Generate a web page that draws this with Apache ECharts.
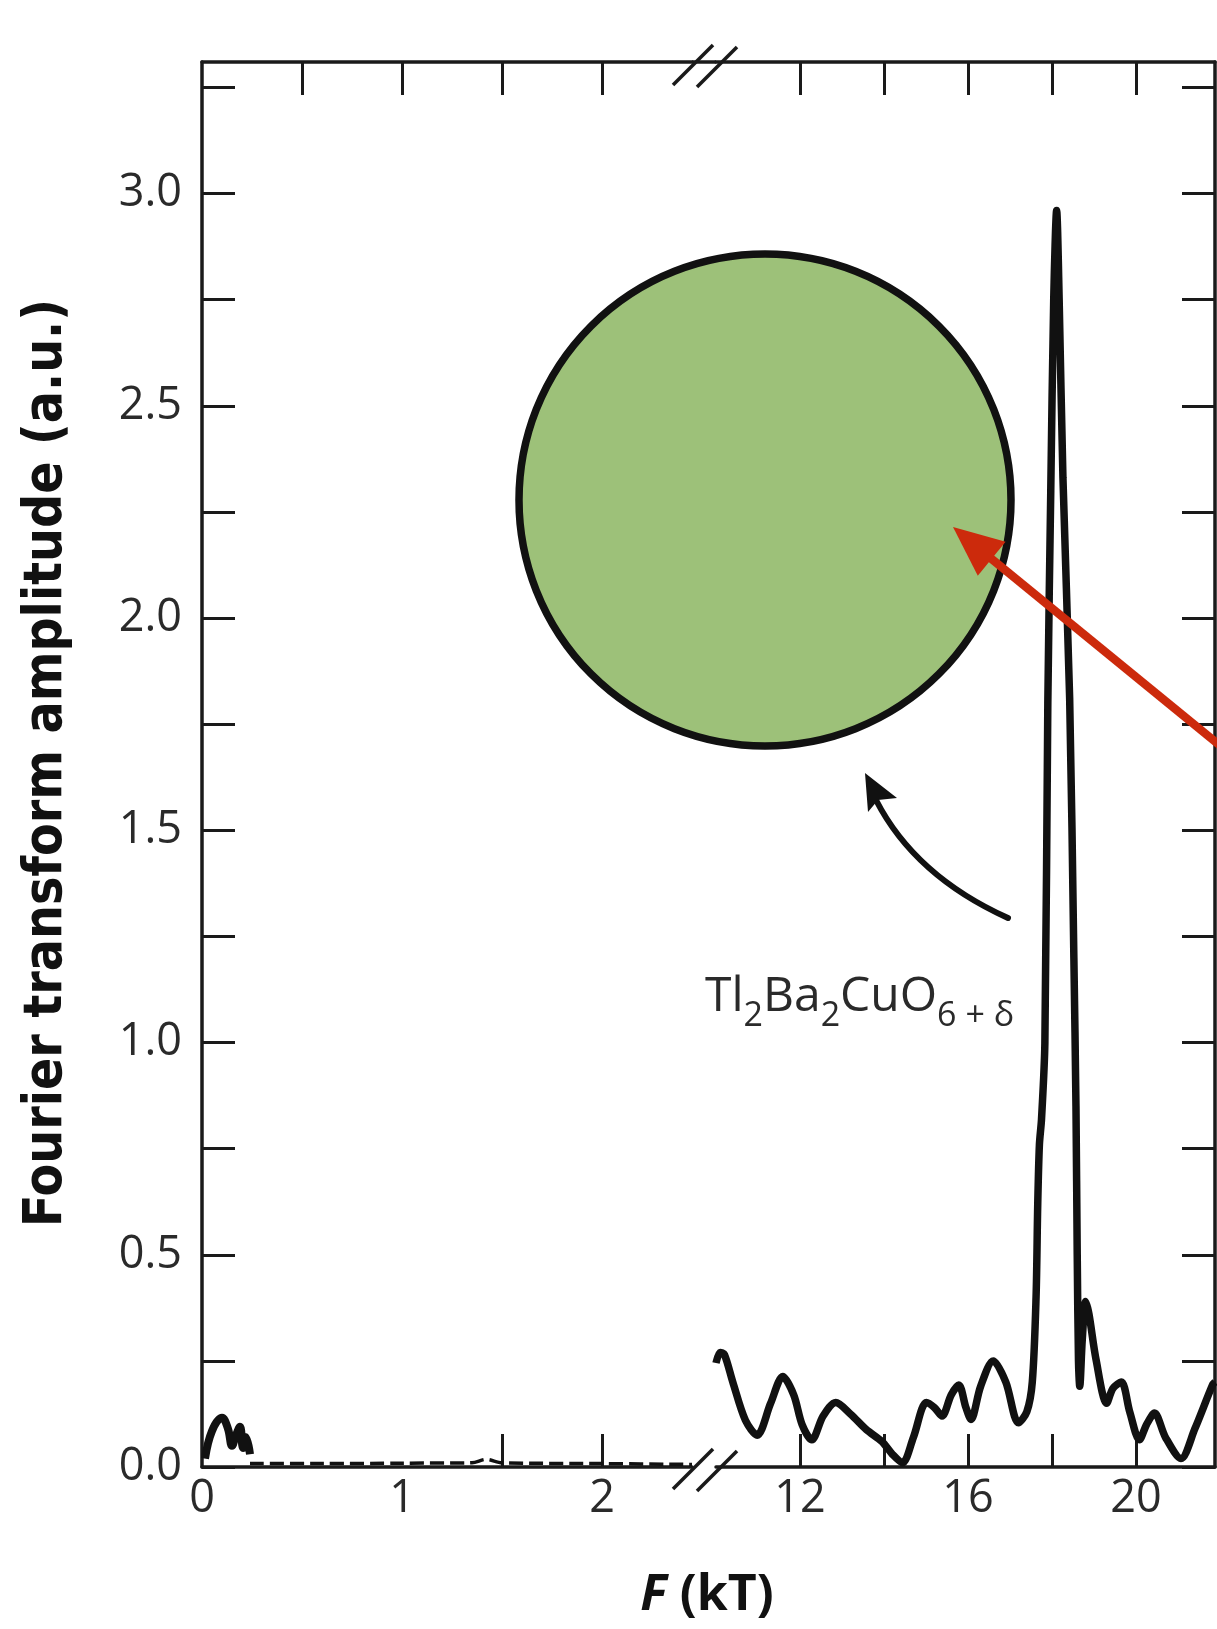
<!DOCTYPE html>
<html><head><meta charset="utf-8">
<script src="https://cdn.jsdelivr.net/npm/echarts@6/dist/echarts.min.js"></script>
<style>html,body{margin:0;padding:0;background:#fff}#c{width:1217px;height:1629px}</style>
</head><body><div id="c"></div>
<script>
// ---- data ----
// low-frequency part (kT)
const lowF   = [0.015, 0.05, 0.10, 0.13, 0.15, 0.17, 0.19, 0.205, 0.22, 0.24];
const lowAmp = [0.02, 0.085, 0.116, 0.09, 0.05, 0.075, 0.095, 0.045, 0.07, 0.03];
// flat low-frequency baseline
const baseF   = [0.24, 0.6, 1.0, 1.35, 1.42, 1.5, 2.0, 2.45];
const baseAmp = [0.008, 0.008, 0.009, 0.01, 0.018, 0.01, 0.008, 0.006];
// high-frequency part (kT)
const highF = [10.0, 10.1, 10.2, 10.4, 10.7, 10.98, 11.3, 11.59, 11.85, 12.05, 12.28, 12.55, 12.85, 13.2, 13.58, 13.95, 14.2, 14.44, 14.7, 15.01, 15.2, 15.38, 15.6, 15.78, 15.95, 16.07, 16.3, 16.6, 16.9, 17.2, 17.4, 17.53, 17.62, 17.66, 17.7, 17.75, 17.83, 17.9, 17.97, 18.04, 18.11, 18.17, 18.26, 18.42, 18.52, 18.57, 18.6, 18.63, 18.66, 18.72, 18.8, 18.88, 19.05, 19.3, 19.45, 19.65, 19.85, 20.08, 20.25, 20.44, 20.7, 21.07, 21.4, 21.82, 21.88];
const highAmp = [0.245, 0.27, 0.265, 0.2, 0.11, 0.075, 0.15, 0.213, 0.17, 0.1, 0.064, 0.12, 0.152, 0.125, 0.088, 0.06, 0.03, 0.01, 0.07, 0.152, 0.14, 0.12, 0.17, 0.193, 0.14, 0.112, 0.19, 0.25, 0.2, 0.104, 0.13, 0.2, 0.4, 0.62, 0.76, 0.82, 1.0, 1.8, 2.3, 2.75, 2.96, 2.75, 2.33, 1.81, 1.2, 0.85, 0.5, 0.25, 0.19, 0.3, 0.39, 0.36, 0.252, 0.15, 0.185, 0.2, 0.13, 0.064, 0.1, 0.127, 0.07, 0.02, 0.09, 0.193, 0.2];

// ---- ticks / labels ----
const yTickValues  = [0, 0.25, 0.5, 0.75, 1, 1.25, 1.5, 1.75, 2, 2.25, 2.5, 2.75, 3, 3.25];
const yLabelValues = [0, 0.5, 1, 1.5, 2, 2.5, 3];
const lowTopTicks = [0.5, 1, 1.5, 2];
const lowBottomTicks = [1.5, 2];
const lowLabels = [0, 1, 2];
const highTicks = [12, 14, 16, 18, 20];
const highLabels = [12, 16, 20];

const zip = (a, b) => a.map((v, i) => [v, b[i]]);

const INK = '#1a1a1a';
const TXT = '#2a2a2a';
const FONT = "'Open Sans', 'Noto Sans', sans-serif";
const G1 = {left: 202, top: 62, width: 490, height: 1405};
const G2 = {left: 716, top: 62, width: 499, height: 1405};

const axLine = {show: true, lineStyle: {color: INK, width: 3.5}};
const tick = (vals) => ({show: true, inside: true, length: 33, customValues: vals, lineStyle: {color: INK, width: 3}});
const lab = (vals) => ({show: true, customValues: vals, margin: 10, color: TXT, fontSize: 45, fontFamily: FONT});

const chart = echarts.init(document.getElementById('c'), null, {renderer: 'canvas'});
chart.setOption({
  animation: false,
  backgroundColor: '#fff',
  grid: [
    Object.assign({containLabel: false}, G1),
    Object.assign({containLabel: false}, G2)
  ],
  xAxis: [
    {type: 'value', gridIndex: 0, position: 'bottom', min: 0, max: 2.45, axisLine: axLine, axisTick: tick(lowBottomTicks), axisLabel: lab(lowLabels), splitLine: {show: false}},
    {type: 'value', gridIndex: 0, position: 'top', min: 0, max: 2.45, axisLine: axLine, axisTick: tick(lowTopTicks), axisLabel: {show: false}, splitLine: {show: false}},
    {type: 'value', gridIndex: 1, position: 'bottom', min: 10, max: 21.88, axisLine: axLine, axisTick: tick(highTicks), axisLabel: lab(highLabels), splitLine: {show: false}},
    {type: 'value', gridIndex: 1, position: 'top', min: 10, max: 21.88, axisLine: axLine, axisTick: tick(highTicks), axisLabel: {show: false}, splitLine: {show: false}}
  ],
  yAxis: [
    {type: 'value', gridIndex: 0, position: 'left', min: 0, max: 3.31, axisLine: axLine, axisTick: tick(yTickValues),
     axisLabel: Object.assign(lab(yLabelValues), {margin: 20, formatter: v => v.toFixed(1)}), splitLine: {show: false}},
    {type: 'value', gridIndex: 1, position: 'right', min: 0, max: 3.31, axisLine: axLine, axisTick: tick(yTickValues), axisLabel: {show: false}, splitLine: {show: false}}
  ],
  series: [
    {type: 'line', xAxisIndex: 0, yAxisIndex: 0, data: zip(lowF, lowAmp), smooth: 0.4, symbol: 'none', lineStyle: {color: '#111', width: 8}, z: 3},
    {type: 'line', xAxisIndex: 0, yAxisIndex: 0, data: zip(baseF, baseAmp), smooth: 0.3, symbol: 'none', lineStyle: {color: '#111', width: 3.5, type: [14, 6]}, z: 3},
    {type: 'line', xAxisIndex: 2, yAxisIndex: 1, data: zip(highF, highAmp), smooth: 0.3, symbol: 'none', lineStyle: {color: '#111', width: 7.5}, z: 3}
  ],
  graphic: [
    // continuous top frame across the break
    {type: 'line', shape: {x1: G1.left + G1.width, y1: G1.top, x2: G2.left, y2: G2.top}, style: {stroke: INK, lineWidth: 3.5}},
    // break marks top
    {type: 'line', shape: {x1: 673, y1: 85, x2: 713, y2: 45}, style: {stroke: INK, lineWidth: 3.5}},
    {type: 'line', shape: {x1: 697, y1: 87, x2: 737, y2: 47}, style: {stroke: INK, lineWidth: 3.5}},
    // break marks bottom
    {type: 'line', shape: {x1: 673, y1: 1489, x2: 713, y2: 1449}, style: {stroke: INK, lineWidth: 3.5}},
    {type: 'line', shape: {x1: 697, y1: 1491, x2: 737, y2: 1451}, style: {stroke: INK, lineWidth: 3.5}},
    // Fermi surface circle
    {type: 'circle', shape: {cx: 765, cy: 500, r: 246}, style: {fill: '#9dc179', stroke: '#111', lineWidth: 7.5}, z: 10},
    // red arrow
    {type: 'line', shape: {x1: 988, y1: 556, x2: 1245, y2: 766}, style: {stroke: '#cc2a0c', lineWidth: 8.5}, z: 11},
    {type: 'polygon', shape: {points: [[953, 527], [1005.6, 541.7], [977.8, 575.7]]}, style: {fill: '#cc2a0c'}, z: 11},
    // black curved arrow
    {type: 'bezierCurve', shape: {x1: 1008, y1: 918, x2: 876, y2: 800, cpx1: 915, cpy1: 876}, style: {stroke: '#111', lineWidth: 6, fill: null, lineCap: 'round'}, z: 11},
    {type: 'polygon', shape: {points: [[865, 773], [897, 798], [878, 800], [868, 812]]}, style: {fill: '#111'}, z: 11},
    // compound label
    {type: 'text', x: 705, y: 1033, z: 12, style: {
      text: '{m|Tl}{s|2}{m|Ba}{s|2}{m|CuO}{s|6 + δ}', x: 0, y: 0, verticalAlign: 'bottom', align: 'left',
      rich: {
        m: {fontSize: 48, fontFamily: FONT, fill: TXT, lineHeight: 54, padding: [0, 0, 12, 0], verticalAlign: 'bottom'},
        s: {fontSize: 34, fontFamily: FONT, fill: TXT, lineHeight: 41, verticalAlign: 'bottom'}
      }}},
    // y-axis title
    {type: 'text', x: 47, y: 763, rotation: Math.PI / 2, style: {
      text: 'Fourier transform amplitude (a.u.)', align: 'center', verticalAlign: 'middle',
      fontSize: 53, fontWeight: 'bold', fontFamily: "'Liberation Sans Narrow', 'DejaVu Sans Condensed', sans-serif", fill: '#111'}},
    // x-axis title
    {type: 'text', x: 707, y: 1596, style: {
      text: '{i|F }{b|(kT)}', align: 'center', verticalAlign: 'middle',
      rich: {
        i: {fontSize: 50, fontWeight: 'bold', fontStyle: 'italic', fontFamily: FONT, fill: '#111'},
        b: {fontSize: 50, fontWeight: 'bold', fontFamily: FONT, fill: '#111'}
      }}}
  ]
});
</script></body></html>
